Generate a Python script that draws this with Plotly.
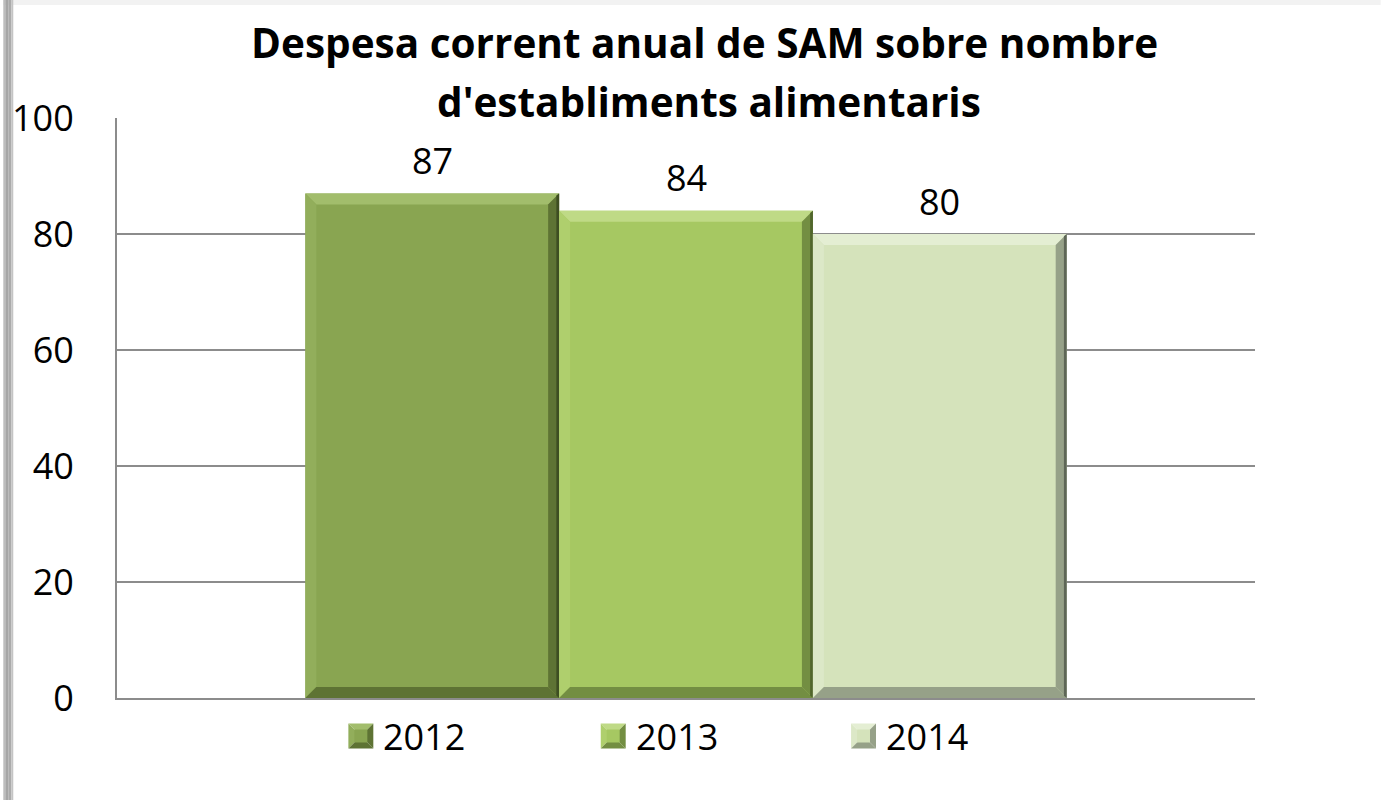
import plotly.graph_objects as go

# Data
years = ["2012", "2013", "2014"]
values = [87, 84, 80]
title_lines = ["Despesa corrent anual de SAM sobre nombre", "d'establiments alimentaris"]
y_ticks = [0, 20, 40, 60, 80, 100]

# Styling
face = ["#89A551", "#A6C862", "#D5E3BB"]
light = ["#A2BD6C", "#BFDA86", "#E4EED3"]
side_light = ["#92AE5B", "#AFCF6D", "#DCE8C7"]
dark = ["#5E7334", "#738E42", "#96A188"]
darker = ["#3E4E22", "#51662C", "#5E6657"]

W, H = 1381, 800
ML, MR, MT, MB = 114, 126, 118, 102
PW, PH = W - ML - MR, H - MT - MB
FONT = "Open Sans"
TXT = 36
BARGAP = 0.331


def px_x(px):
    return (px - ML) / PW


def px_y(py):
    return (H - MB - py) / PH


fig = go.Figure()
for name, v, c in zip(years, values, face):
    fig.add_trace(go.Bar(
        x=[0], y=[v], name=name,
        marker=dict(color=c, line=dict(width=0)),
        showlegend=False, hoverinfo="name+y",
    ))

shapes = []
annotations = []

# Page frame: light band on top and a soft shadow on the left edge
shapes.append(dict(type="rect", xref="paper", yref="paper", layer="below",
                   x0=px_x(0), x1=px_x(W), y0=px_y(0), y1=px_y(5),
                   fillcolor="#F2F2F2", line=dict(width=0)))
for (a, b, col) in [(0, 2, "#BDBDBD"), (2, 5, "#A6A6A6"), (5, 8, "#ABABAB"), (8, 10, "#C4C4C4")]:
    shapes.append(dict(type="rect", xref="paper", yref="paper", layer="below",
                       x0=px_x(a), x1=px_x(b), y0=px_y(H), y1=px_y(0),
                       fillcolor=col, line=dict(width=0)))

# Bevel edges on every bar, derived from the bar geometry
group_w = 1 - BARGAP
bw = group_w / len(values)
bx = 11 / PW            # bevel width in x data units
by = 11 * 100 / PH      # bevel height in y data units
for i, v in enumerate(values):
    x0 = -group_w / 2 + i * bw
    x1 = x0 + bw
    top = v

    def poly(pts, col):
        path = "M " + " L ".join(f"{x},{y}" for x, y in pts) + " Z"
        shapes.append(dict(type="path", xref="x", yref="y", path=path,
                           fillcolor=col, line=dict(width=0), layer="above"))

    poly([(x0, top), (x1, top), (x1 - bx, top - by), (x0 + bx, top - by)], light[i])
    poly([(x0, top), (x0 + bx, top - by), (x0 + bx, by), (x0, 0)], side_light[i])
    poly([(x1, top), (x1, 0), (x1 - bx, by), (x1 - bx, top - by)], dark[i])
    poly([(x0, 0), (x1, 0), (x1 - bx, by), (x0 + bx, by)], dark[i])
    # thin dark rim on the right edge
    poly([(x1 - bx * 0.25, top - by * 0.2), (x1, top), (x1, 0), (x1 - bx * 0.25, by * 0.2)], darker[i])

    annotations.append(dict(x=(x0 + x1) / 2, y=v, xref="x", yref="y",
                            text=str(v), showarrow=False, yanchor="middle", yshift=33,
                            font=dict(family=FONT, size=TXT, color="#000000")))

# Legend drawn as bevelled squares with labels
leg_left = [346, 599, 850]
leg_size = 25
leg_cy = 736
for i, name in enumerate(years):
    lx0, lx1 = leg_left[i], leg_left[i] + leg_size
    ly0, ly1 = leg_cy - leg_size / 2, leg_cy + leg_size / 2
    cx, cy = (lx0 + lx1) / 2, leg_cy

    def lpoly(pts, col):
        path = "M " + " L ".join(f"{px_x(x)},{px_y(y)}" for x, y in pts) + " Z"
        shapes.append(dict(type="path", xref="paper", yref="paper", path=path,
                           fillcolor=col, line=dict(width=0)))

    lpoly([(lx0, ly0), (lx1, ly0), (cx, cy)], light[i])
    lpoly([(lx0, ly0), (cx, cy), (lx0, ly1)], side_light[i])
    lpoly([(lx1, ly0), (lx1, ly1), (cx, cy)], dark[i])
    lpoly([(lx0, ly1), (lx1, ly1), (cx, cy)], dark[i])
    shapes.append(dict(type="rect", xref="paper", yref="paper",
                       x0=px_x(lx0 + 6), x1=px_x(lx1 - 6), y0=px_y(ly1 - 6), y1=px_y(ly0 + 6),
                       fillcolor=face[i], line=dict(width=0)))
    annotations.append(dict(x=px_x(lx1 + 8), y=px_y(leg_cy), xref="paper", yref="paper",
                            text=name, showarrow=False, xanchor="left", yanchor="middle",
                            font=dict(family=FONT, size=TXT, color="#000000")))

# Chart title, one annotation per line
for line, cx, cy in zip(title_lines, [703, 708], [43, 102]):
    annotations.append(dict(x=px_x(cx), y=px_y(cy), xref="paper", yref="paper",
                            text="<b>" + line + "</b>", showarrow=False,
                            xanchor="center", yanchor="middle",
                            font=dict(family=FONT, size=40.5, color="#000000")))

fig.update_layout(
    width=W, height=H,
    margin=dict(l=ML, r=MR, t=MT, b=MB, pad=0),
    paper_bgcolor="#FFFFFF", plot_bgcolor="#FFFFFF",
    barmode="group", bargap=BARGAP, bargroupgap=0,
    xaxis=dict(range=[-0.5, 0.5], showticklabels=False, showgrid=False, zeroline=False,
               showline=True, linecolor="#8C8C8C", linewidth=2, ticks=""),
    yaxis=dict(range=[0, 100], tickvals=y_ticks, showgrid=True, gridcolor="#8C8C8C",
               gridwidth=1.5, zeroline=False, showline=True, linecolor="#8C8C8C",
               linewidth=2, ticks="", ticklabelstandoff=34,
               tickfont=dict(family=FONT, size=TXT, color="#000000")),
    shapes=shapes, annotations=annotations, showlegend=False,
)

fig.write_html("out.html")
